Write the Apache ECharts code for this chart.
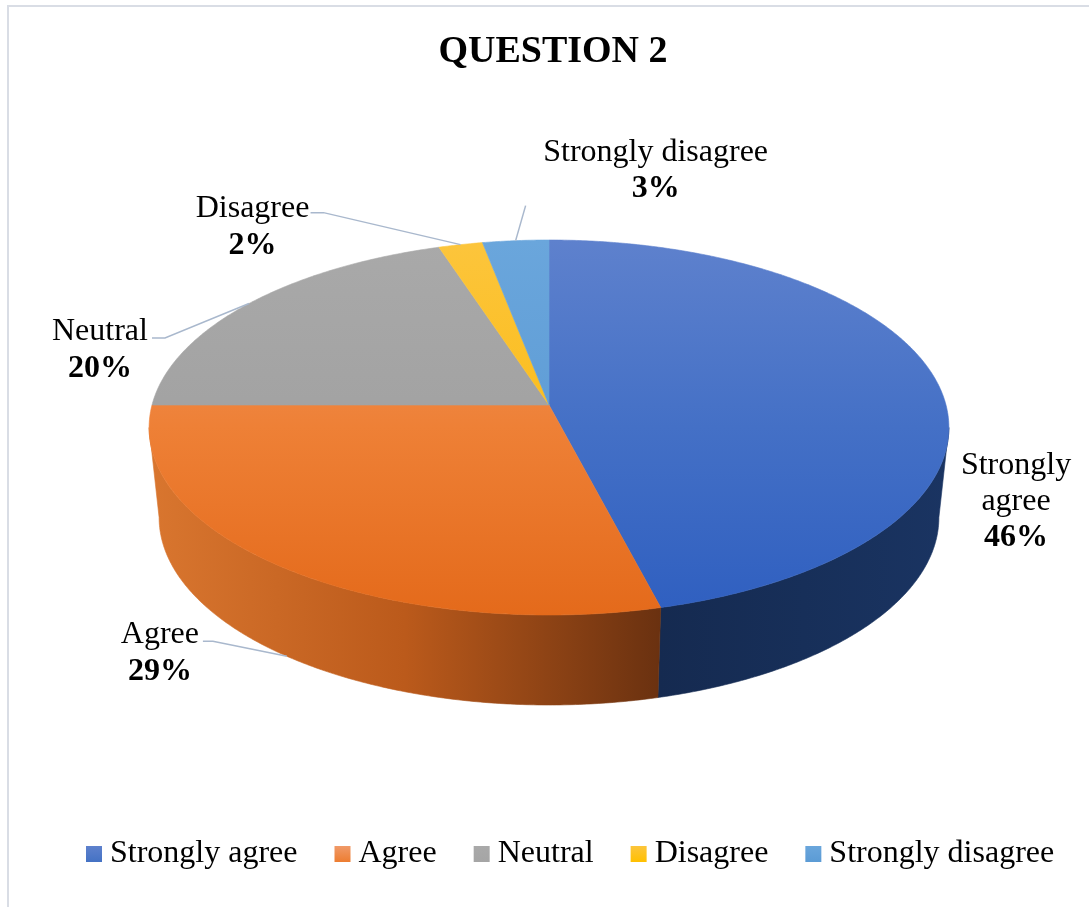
<!DOCTYPE html>
<html>
<head>
<meta charset="utf-8">
<script src="https://cdn.jsdelivr.net/npm/echarts@6/dist/echarts.min.js"></script>
<style>
  html, body { margin: 0; padding: 0; background: #ffffff; }
  #chart { width: 1089px; height: 907px; }
</style>
</head>
<body>
<div id="chart"></div>
<script>
// Survey answers, question 2
const chartTitle = 'QUESTION 2';
const categories = ['Strongly agree', 'Agree', 'Neutral', 'Disagree', 'Strongly disagree'];
const shares = [46, 29, 20, 2, 3];

// Face colours: top (light to dark, vertical), wall (left to right), legend swatch
const topStops = [
  ['#5e81cd', '#4470c6', '#2f5fc0'],
  ['#f09a68', '#ee8036', '#e46a1b'],
  ['#a9a9a9', '#a2a2a2', '#999999'],
  ['#fcc53c', '#fbbd1c', '#f5b400'],
  ['#6aa6dc', '#5f9dd6', '#5592cf']
];
const wallStops = [
  ['#152a50', '#172f59', '#1a3462'],
  ['#d9762f', '#bb5a1b', '#6a3110'],
  ['#8a8a8a', '#7a7a7a', '#6a6a6a'],
  ['#d9a000', '#c89300', '#b38300'],
  ['#4b84bc', '#4378ab', '#3b6c9a']
];
const swatchColors = ['#4472c4', '#ed7d31', '#a5a5a5', '#ffc000', '#5b9bd5'];

// Tilted disc geometry (screen pixels), with a mild perspective toward the viewer
const disc = { cx: 549, cy: 405, rx: 397, ry: 184.8, persp: 0.12, depth: 90, baseShrink: 0.975 };

// Label placement relative to each slice's anchor point on the rim
// anchor: 'top' = top rim at mid-angle, 'base' = bottom of the wall at mid-angle
const labelPlacement = [
  { anchor: 'top',  dx: 79,   dy: 119.5, wrap: true,  leader: [] },
  { anchor: 'base', dx: -127, dy: -3,    wrap: false, leader: [[-84, -15], [-74, -15]] },
  { anchor: 'top',  dx: -149, dy: 46.5,  wrap: false, leader: [[-97, 34.5], [-84, 34.5]] },
  { anchor: 'top',  dx: -208, dy: -17.5, wrap: false, leader: [[-150, -32], [-137, -32]] },
  { anchor: 'top',  dx: 140,  dy: -70,   wrap: false, leader: [[10, -35]] }
];

const total = shares.reduce((a, b) => a + b, 0);
const RAD = Math.PI / 180;

// angle in degrees, clockwise from 12 o'clock
function proj(deg, r) {
  const k = r === undefined ? 1 : r;
  const u = Math.sin(deg * RAD) * k;
  const v = -Math.cos(deg * RAD) * k;
  const s = 1 / (1 - disc.persp * v);
  return [disc.cx + disc.rx * u * s, disc.cy + disc.ry * v * s];
}
function base(p) {
  return [disc.cx + (p[0] - disc.cx) * disc.baseShrink, p[1] + disc.depth];
}
// rim angles where the side wall meets the outline
const silAsin = Math.asin(disc.persp) / RAD;
const wallFrom = 90 + silAsin;
const wallTo = 270 - silAsin;

function arc(a0, a1) {
  const n = Math.max(2, Math.ceil((a1 - a0) / 0.5));
  const pts = [];
  for (let i = 0; i <= n; i++) pts.push(proj(a0 + (a1 - a0) * i / n));
  return pts;
}
function stops(cols) {
  return cols.map((c, i) => ({ offset: i / (cols.length - 1), color: c }));
}

const topY = proj(0)[1];
const frontY = proj(180)[1];

function makeRender(idx) {
  return function (params, api) {
    const value = api.value(0);
    let before = 0;
    for (let i = 0; i < idx; i++) before += shares[i];
    const a0 = before / total * 360;
    const a1 = (before + value) / total * 360;
    const children = [];

    // side wall on the visible front rim
    const w0 = Math.max(a0, wallFrom);
    const w1 = Math.min(a1, wallTo);
    if (w1 > w0) {
      const rim = arc(w0, w1);
      const low = rim.map(base).reverse();
      const pts = rim.concat(low);
      const xs = pts.map(p => p[0]);
      const fill = {
        type: 'linear', global: true,
        x: Math.min.apply(null, xs), y: 0, x2: Math.max.apply(null, xs), y2: 0,
        colorStops: stops(wallStops[idx])
      };
      children.push({
        type: 'polygon', shape: { points: pts },
        style: { fill: fill, stroke: fill, lineWidth: 0.6 }
      });
    }

    // top face
    const topPts = [[disc.cx, disc.cy]].concat(arc(a0, a1));
    const topFill = {
      type: 'linear', global: true, x: 0, y: topY, x2: 0, y2: frontY,
      colorStops: stops(topStops[idx])
    };
    children.push({
      type: 'polygon', shape: { points: topPts },
      style: { fill: topFill, stroke: topFill, lineWidth: 0.6 }
    });

    // data label with leader line
    const lp = labelPlacement[idx];
    const mid = (a0 + a1) / 2;
    const anchor = lp.anchor === 'base' ? base(proj(mid)) : proj(mid);
    if (lp.leader.length) {
      const line = lp.leader.map(d => [anchor[0] + d[0], anchor[1] + d[1]]);
      line.push(anchor);
      children.push({
        type: 'polyline', shape: { points: line },
        style: { stroke: '#a9b8cd', lineWidth: 1.5, fill: null }
      });
    }
    const name = categories[idx];
    const nameLines = lp.wrap ? name.split(' ') : [name];
    const pct = Math.round(value / total * 100) + '%';
    const text = nameLines.map(s => '{n|' + s + '}').join('\n') + '\n{p|' + pct + '}';
    children.push({
      type: 'text',
      style: {
        text: text,
        x: anchor[0] + lp.dx,
        y: anchor[1] + lp.dy,
        align: 'center',
        verticalAlign: 'middle',
        rich: {
          n: { fontFamily: 'Liberation Serif', fontSize: 32, fill: '#000000', lineHeight: 36.5, align: 'center' },
          p: { fontFamily: 'Liberation Serif', fontSize: 32, fontWeight: 'bold', fill: '#000000', lineHeight: 36.5, align: 'center' }
        }
      }
    });

    return { type: 'group', children: children };
  };
}

const series = categories.map((name, i) => ({
  type: 'custom',
  name: name,
  coordinateSystem: 'none',
  silent: true,
  itemStyle: {
    color: {
      type: 'linear', x: 0, y: 0, x2: 0, y2: 1,
      colorStops: [{ offset: 0, color: topStops[i][0] }, { offset: 1, color: swatchColors[i] }]
    }
  },
  data: [[shares[i]]],
  renderItem: makeRender(i)
}));

const chart = echarts.init(document.getElementById('chart'), null, { renderer: 'canvas' });
chart.setOption({
  backgroundColor: '#ffffff',
  animation: false,
  title: {
    text: chartTitle,
    left: 553,
    textAlign: 'center',
    top: 33,
    padding: 0,
    textStyle: { fontFamily: 'Liberation Serif', fontSize: 38, fontWeight: 'bold', color: '#000000' }
  },
  legend: {
    data: categories,
    left: 86,
    top: 838,
    padding: 0,
    icon: 'rect',
    itemWidth: 16,
    itemHeight: 16,
    itemGap: 37,
    selectedMode: false,
    textStyle: { fontFamily: 'Liberation Serif', fontSize: 32, color: '#000000', padding: [0, 0, 0, 3] }
  },
  graphic: [{
    type: 'rect',
    silent: true,
    shape: { x: 8, y: 6, width: 1100, height: 920 },
    style: { fill: null, stroke: '#d9dde5', lineWidth: 2 }
  }],
  series: series
});
</script>
</body>
</html>
